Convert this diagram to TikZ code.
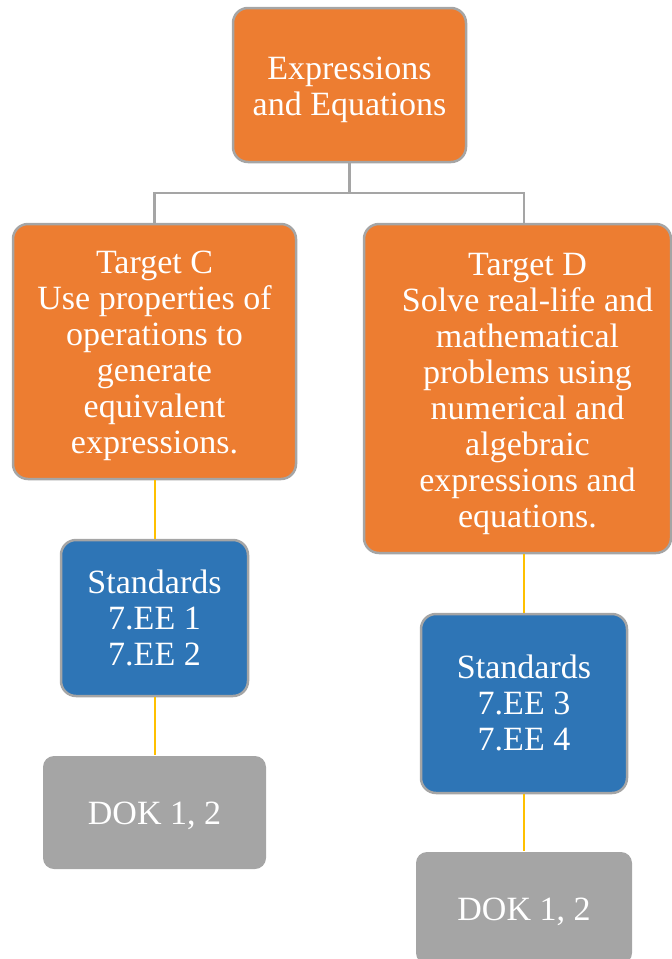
\documentclass[tikz,border=0pt]{standalone}
\usepackage{fontspec}
\setmainfont{Liberation Serif}
\usepackage{xcolor}
\usetikzlibrary{positioning}

\definecolor{tgtorange}{HTML}{ED7D31}
\definecolor{stdblue}{HTML}{2E75B6}
\definecolor{dokgray}{HTML}{A5A5A5}
\definecolor{boxline}{HTML}{A5A5A5}
\definecolor{linkyellow}{HTML}{FFC000}

% centred lines, dropped by #1 without changing the box size
\newcommand{\lowtext}[2]{\raisebox{-#1}[\height][\depth]{\begin{tabular}{@{}c@{}}#2\end{tabular}}}

\begin{document}
\begin{tikzpicture}[
    x=1pt, y=-1pt,
    box/.style={draw=boxline, line width=2.5pt, rounded corners=15pt, text=white, inner sep=0pt, font=\fontsize{34}{36}\selectfont},
    topic/.style={box, fill=tgtorange},
    target/.style={box, fill=tgtorange},
    stds/.style={box, fill=stdblue},
    dok/.style={box, fill=dokgray, draw=none, rounded corners=11pt},
    tree/.style={draw=boxline, line width=2.5pt},
    link/.style={draw=linkyellow, line width=2pt},
]
\useasboundingbox (0,0) rectangle (672,959);

% --- Top of the tree ---
\node[topic, minimum width=233pt, minimum height=154pt] (EE) at (349.5, 85) {\lowtext{5pt}{Expressions\\and Equations}};

% --- Targets ---
\node[target, minimum width=283pt, minimum height=255pt] (TC) at (154.5, 351.5)
    {\lowtext{5pt}{Target C\\Use properties of\\operations to\\generate\\equivalent\\expressions.}};
\node[target, minimum width=307pt, minimum height=329pt] (TD) at (517.5, 388.5)
    {\hspace*{20pt}\lowtext{6pt}{Target D\\Solve real-life and\\mathematical\\problems using\\numerical and\\algebraic\\expressions and\\equations.}};

% --- Standards ---
\node[stds, minimum width=187pt, minimum height=156pt] (SC) at (154.5, 618) {\lowtext{4pt}{Standards\\7.EE 1\\7.EE 2}};
\node[stds, minimum width=206pt, minimum height=179pt] (SD) at (524, 703.5) {\lowtext{4pt}{Standards\\7.EE 3\\7.EE 4}};

% --- DOK levels ---
\node[dok, minimum width=223pt, minimum height=113pt] (DC) at (154.5, 812.5) {\lowtext{5pt}{DOK 1, 2}};
\node[dok, minimum width=216pt, minimum height=112pt] (DD) at (524, 908) {\lowtext{5pt}{DOK 1, 2}};

% gray tree lines
\coordinate (split) at (349.5, 193);
\draw[tree] (EE.south) -- (split);
\draw[tree] (split) -| (TC.north);
\draw[tree] (split) -| (SD.north |- TD.north);

% yellow links down each branch
\draw[link] (TC.south) -- (SC.north);
\draw[link] (SC.south) -- (DC.north);
\draw[link] (SD.north |- TD.south) -- (SD.north);
\draw[link] (SD.south) -- (DD.north);

\end{tikzpicture}
\end{document}
